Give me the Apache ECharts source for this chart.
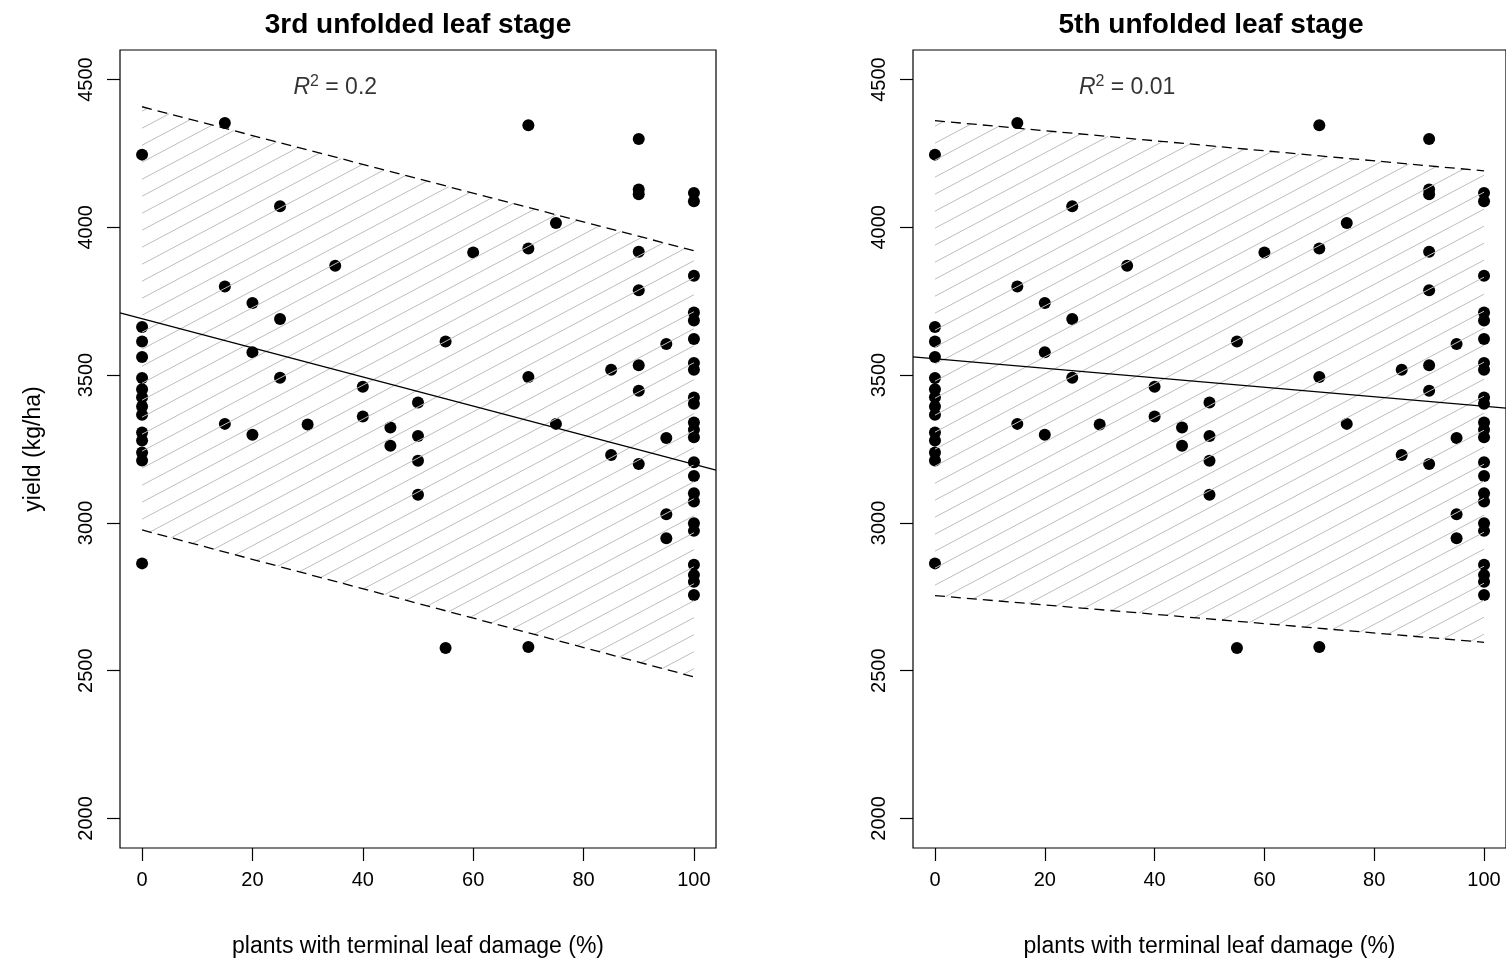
<!DOCTYPE html>
<html>
<head>
<meta charset="utf-8">
<script src="https://cdn.jsdelivr.net/npm/echarts@6/dist/echarts.min.js"></script>
<style>
  html, body { margin: 0; padding: 0; background: #ffffff; }
  #chart { width: 1506px; height: 963px; }
</style>
</head>
<body>
<div id="chart"></div>
<script>
// ---- data -------------------------------------------------------------
const panelTitles = ['3rd unfolded leaf stage', '5th unfolded leaf stage'];
const rSquaredValues = ['0.2', '0.01'];
const xTicks = [0, 20, 40, 60, 80, 100];
const yTicks = [2000, 2500, 3000, 3500, 4000, 4500];

// plants with terminal leaf damage (%) and yield (kg/ha), one entry per plot
const damage = [
  0, 0, 0, 0, 0, 0, 0, 0, 0, 0, 0, 0, 0, 0,
  15, 15, 15,
  20, 20, 20,
  25, 25, 25,
  30, 35, 40, 40, 45, 45,
  50, 50, 50, 50,
  55, 55, 60,
  70, 70, 70, 70,
  75, 75, 85, 85,
  90, 90, 90, 90, 90, 90, 90, 90,
  95, 95, 95, 95,
  100, 100, 100, 100, 100, 100, 100, 100, 100, 100, 100, 100,
  100, 100, 100, 100, 100, 100, 100, 100, 100, 100, 100
];
const yieldKgHa = [
  4246, 3663, 3614, 3561, 3490, 3452, 3425, 3394, 3366, 3306, 3279, 3238, 3211, 2863,
  4353, 3800, 3335,
  3744, 3577, 3298,
  4071, 3690, 3491,
  3333, 3870, 3461, 3360, 3323, 3261,
  3407, 3294, 3210, 3095,
  3614, 2577, 3915,
  4345, 3928, 3494, 2580,
  4015, 3335, 3518, 3230,
  4299, 4128, 4112, 3917, 3787, 3533, 3447, 3199,
  3605, 3287, 3029, 2948,
  4116, 4088, 3836, 3712, 3685, 3622, 3541, 3518, 3424, 3403, 3340, 3315,
  3290, 3205, 3159, 3100, 3072, 2999, 2973, 2858, 2824, 2801, 2756
];

// fitted line and interval bounds at 0 % and 100 % damage, per panel
const fitAt0 = [3691, 3555];
const fitAt100 = [3198, 3395];
const upperAt0 = [4408, 4361];
const upperAt100 = [3921, 4191];
const lowerAt0 = [2976, 2754];
const lowerAt100 = [2479, 2596];

// where the R-squared note sits, in data units
const noteAt = [35, 4473];

// ---- layout / style ---------------------------------------------------
const FONT = '"Liberation Sans", Arial, Helvetica, sans-serif';
const X_MIN = -4, X_MAX = 104, Y_MIN = 1900, Y_MAX = 4600;
const grids = [
  { left: 120, top: 50, width: 596, height: 798 },
  { left: 913, top: 50, width: 596, height: 798 }
];
const hatchSlope = 0.53;     // rise per px run of the shading lines
const hatchStep = 17;        // vertical spacing of shading lines (px)
const hatchPhase = [16.5, 9.7];

function fitValue(p, x) {
  return fitAt0[p] + (fitAt100[p] - fitAt0[p]) * x / 100;
}

function hatchRenderer(p) {
  return function (params, api) {
    const poly = [
      api.coord([0, upperAt0[p]]),
      api.coord([100, upperAt100[p]]),
      api.coord([100, lowerAt100[p]]),
      api.coord([0, lowerAt0[p]])
    ];
    const cs = poly.map(q => q[1] + hatchSlope * q[0]);
    const cMin = Math.min.apply(null, cs), cMax = Math.max.apply(null, cs);
    const start = Math.ceil((cMin - hatchPhase[p]) / hatchStep) * hatchStep + hatchPhase[p];
    const children = [];
    for (let c = start; c <= cMax; c += hatchStep) {
      const pts = [];
      for (let i = 0; i < poly.length; i++) {
        const a = poly[i], b = poly[(i + 1) % poly.length];
        const fa = a[1] + hatchSlope * a[0] - c;
        const fb = b[1] + hatchSlope * b[0] - c;
        if (fa === fb) continue;
        if ((fa <= 0 && fb >= 0) || (fa >= 0 && fb <= 0)) {
          const t = fa / (fa - fb);
          pts.push([a[0] + t * (b[0] - a[0]), a[1] + t * (b[1] - a[1])]);
        }
      }
      if (pts.length >= 2) {
        pts.sort((u, v) => u[0] - v[0]);
        const s = pts[0], e = pts[pts.length - 1];
        if (Math.abs(e[0] - s[0]) < 0.5) continue;
        children.push({
          type: 'line',
          shape: { x1: s[0], y1: s[1], x2: e[0], y2: e[1] },
          style: { stroke: '#bebebe', lineWidth: 1 }
        });
      }
    }
    return { type: 'group', children: children };
  };
}

const points = damage.map((d, i) => [d, yieldKgHa[i]]);
const plainNumber = v => String(v);

const series = [];
const xAxes = [];
const yAxes = [];
const graphics = [];

for (let p = 0; p < 2; p++) {
  xAxes.push({
    type: 'value', gridIndex: p, min: X_MIN, max: X_MAX,
    axisLine: { show: false, onZero: false },
    splitLine: { show: false },
    axisTick: { show: true, customValues: xTicks, length: 13, lineStyle: { color: '#000', width: 1.2 } },
    axisLabel: { show: true, customValues: xTicks, formatter: plainNumber, margin: 22, color: '#000', fontSize: 20, fontFamily: FONT },
    name: 'plants with terminal leaf damage (%)',
    nameLocation: 'middle', nameGap: 87,
    nameTextStyle: { color: '#000', fontSize: 23, fontFamily: FONT }
  });
  yAxes.push({
    type: 'value', gridIndex: p, min: Y_MIN, max: Y_MAX,
    axisLine: { show: false, onZero: false },
    splitLine: { show: false },
    axisTick: { show: true, customValues: yTicks, length: 13, lineStyle: { color: '#000', width: 1.2 } },
    axisLabel: { show: true, customValues: yTicks, formatter: plainNumber, rotate: 90, margin: 24, color: '#000', fontSize: 20, fontFamily: FONT },
    name: p === 0 ? 'yield (kg/ha)' : '',
    nameLocation: 'middle', nameGap: 75,
    nameTextStyle: { color: '#000', fontSize: 23, fontFamily: FONT }
  });

  series.push({
    type: 'scatter', xAxisIndex: p, yAxisIndex: p,
    data: points, symbol: 'circle', symbolSize: 12,
    itemStyle: { color: '#000', opacity: 1 }, z: 2, silent: true
  });
  series.push({
    type: 'custom', xAxisIndex: p, yAxisIndex: p,
    data: [[0, upperAt0[p]]],
    renderItem: hatchRenderer(p), z: 3, silent: true, clip: true
  });
  const dashed = { color: '#000', width: 1.3, type: [10, 6] };
  series.push({
    type: 'line', xAxisIndex: p, yAxisIndex: p,
    data: [[0, upperAt0[p]], [100, upperAt100[p]]],
    showSymbol: false, symbol: 'none', lineStyle: dashed, z: 4, silent: true
  });
  series.push({
    type: 'line', xAxisIndex: p, yAxisIndex: p,
    data: [[0, lowerAt0[p]], [100, lowerAt100[p]]],
    showSymbol: false, symbol: 'none', lineStyle: dashed, z: 4, silent: true
  });
  series.push({
    type: 'line', xAxisIndex: p, yAxisIndex: p,
    data: [[X_MIN, fitValue(p, X_MIN)], [X_MAX, fitValue(p, X_MAX)]],
    showSymbol: false, symbol: 'none', clip: true,
    lineStyle: { color: '#000', width: 1.3, type: 'solid' }, z: 4, silent: true
  });
  series.push({
    type: 'scatter', xAxisIndex: p, yAxisIndex: p,
    data: [noteAt], symbolSize: 0, z: 5, silent: true,
    label: {
      show: true, position: 'inside', color: '#000',
      formatter: '{it|R}{sup|2}{eq| = ' + rSquaredValues[p] + '}',
      rich: {
        it: { fontStyle: 'italic', fontSize: 23, color: '#000', fontFamily: FONT, lineHeight: 28 },
        sup: { fontSize: 16, color: '#000', fontFamily: FONT, verticalAlign: 'top', lineHeight: 28 },
        eq: { fontSize: 23, color: '#000', fontFamily: FONT, lineHeight: 28 }
      }
    }
  });

  graphics.push({
    type: 'text',
    x: grids[p].left + grids[p].width / 2, y: 25,
    style: {
      text: panelTitles[p], fill: '#000',
      font: 'bold 28px ' + FONT,
      textAlign: 'center', textVerticalAlign: 'middle'
    }
  });
}

const chart = echarts.init(document.getElementById('chart'), null, { renderer: 'canvas' });
chart.setOption({
  animation: false,
  backgroundColor: '#ffffff',
  grid: grids.map(g => Object.assign({
    show: true, borderColor: '#000', borderWidth: 1.2, backgroundColor: 'transparent',
    containLabel: false
  }, g)),
  xAxis: xAxes,
  yAxis: yAxes,
  series: series,
  graphic: graphics
});
</script>
</body>
</html>
